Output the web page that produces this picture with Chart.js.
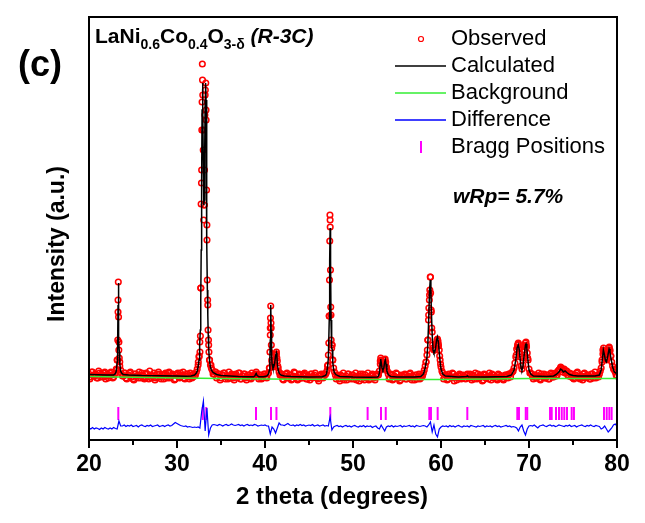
<!DOCTYPE html>
<html><head><meta charset="utf-8">
<script src="https://cdn.jsdelivr.net/npm/chart.js@4.4.0/dist/chart.umd.min.js"></script>
<style>html,body{margin:0;padding:0;background:#fff;}canvas{display:block;}</style>
</head><body>
<canvas id="c" width="645" height="523"></canvas>
<script>
// ---- axis ----
const xMin = 20, xMax = 80;
const xTickLabels = [20, 30, 40, 50, 60, 70, 80];
const xMinorTicks = [25, 35, 45, 55, 65, 75];

// ---- observed scan: two interleaved 2θ grids (start / step) ----
const scanStart = 20, scanStep = 0.2, scanStartB = 20.1;
const observed = [
 66,63,68,64,65,62,67,66,63,68,64,62,67,65,63,
 67,80,98,70,64,67,
 62,65,67,63,61,66,64,62,65,67,63,62,66,61,65,64,67,62,63,66,61,65,66,63,67,62,64,65,61,66,63,67,65,62,64,66,61,65,63,
 64,68,75,98,270,310,345,215,95,75,70,66,68,64,
 66,62,65,67,63,61,64,66,62,65,63,67,61,64,66,62,63,65,61,64,
 65,68,63,
 65,61,64,66,
 62,67,105,78,74,86,79,68,66,
 61,64,66,62,65,60,64,67,63,61,65,62,66,64,61,63,66,62,65,63,61,64,66,62,65,
 68,85,220,95,72,65,
 64,61,65,62,60,64,66,62,61,65,63,60,64,66,61,63,65,62,60,64,66,62,64,
 65,69,80,71,80,73,66,
 62,65,61,63,66,62,60,64,65,61,63,66,62,64,60,65,63,61,
 65,67,74,85,125,163,108,90,96,101,90,73,67,63,
 65,61,64,62,66,63,60,64,65,62,63,
 61,66,64,
 62,65,61,63,66,62,64,60,65,63,61,64,66,62,63,60,65,64,61,63,
 65,62,66,67,69,77,91,96,83,71,82,97,87,71,67,63,
 65,62,64,61,66,63,62,65,61,64,66,
 63,67,65,70,73,68,71,69,65,67,63,
 62,65,67,63,61,64,66,62,65,63,61,66,64,62,65,
 66,72,90,86,80,89,90,78,71,68,64
];
const observedB = [
 61,68,64,66,62,69,63,65,67,61,66,64,68,62,66,
 71,140,78,66,64,
 67,61,65,68,63,60,66,64,68,62,65,61,67,63,69,62,64,60,66,68,63,65,61,67,62,68,64,66,60,65,67,62,64,68,61,66,63,67,62,
 66,65,71,83,152,360,235,330,135,80,72,66,68,
 62,66,60,65,67,61,64,68,62,65,60,66,63,67,61,64,66,60,65,62,67,63,
 66,66,
 61,65,62,66,63,
 66,72,112,73,79,86,72,65,
 66,60,64,67,62,65,61,68,63,60,66,62,65,67,61,64,60,66,63,67,62,59,65,63,66,
 66,74,124,125,80,68,
 61,65,59,64,67,62,60,66,63,65,61,67,62,59,64,66,60,63,67,61,65,62,60,66,
 65,79,73,74,77,69,
 61,66,60,64,67,62,59,65,63,66,61,64,67,60,63,65,61,66,62,
 64,70,78,100,145,128,92,90,97,96,80,69,
 61,65,60,66,63,67,59,64,62,66,61,65,63,
 65,62,
 66,60,64,67,61,63,65,59,66,62,64,67,60,65,63,61,66,62,64,60,65,
 64,66,63,68,72,83,95,92,74,75,90,95,80,67,66,
 61,65,62,67,60,64,66,62,65,61,67,63,
 66,64,69,71,72,70,67,69,64,66,
 66,61,65,68,62,64,60,67,63,65,61,66,62,68,64,
 63,69,80,89,81,83,92,84,74,70,65
];
// extra observed points on the peak flanks [2θ, intensity]
const observedPeaks = [
 [23.15,70],[23.22,80],[23.27,100],[23.3,128],[23.33,158],[23.36,123],[23.39,90],[23.44,82],[23.5,74],
 [32.42,78],[32.52,84],[32.61,88],[32.66,104],[32.71,152],[32.74,236],[32.78,257],[32.82,310],[32.85,338],[32.88,376],
 [32.93,345],[32.98,290],[33.03,220],[33.08,235],[33.13,270],[33.17,325],[33.22,350],[33.27,357],[33.31,320],[33.36,250],
 [33.41,200],[33.44,160],[33.48,140],[33.53,110],[33.58,100],[33.63,88],[33.7,80],[33.86,75],
 [40.5,72],[40.56,88],[40.6,112],[40.62,122],[40.65,134],[40.68,117],[40.72,95],[40.77,80],
 [41.05,75],[41.15,80],[41.25,85],[41.3,88],[41.35,82],[41.45,74],
 [47.08,70],[47.15,75],[47.25,97],[47.3,124],[47.33,160],[47.36,199],[47.38,225],[47.41,213],[47.44,170],
 [47.47,133],[47.52,100],[47.58,92],[47.63,95],[47.7,80],
 [53.1,76],[53.15,82],[53.22,78],[53.3,72],[53.55,76],[53.65,81],[53.72,78],[53.8,71],
 [58.3,78],[58.45,90],[58.52,100],[58.58,120],[58.62,132],[58.68,140],[58.73,150],[58.78,163],[58.82,147],
 [58.88,130],[58.95,112],[59.05,95],[59.3,90],[59.45,95],[59.55,100],[59.66,99],[59.72,94],[59.85,84],[59.95,76],
 [68.55,85],[68.7,93],[68.78,97],[68.85,92],[68.95,86],[69.45,88],[69.55,94],[69.66,98],[69.72,93],[69.85,82],
 [78.3,78],[78.4,86],[78.47,92],[78.55,88],[78.95,86],[79.05,90],[79.12,93],[79.2,89],[79.3,84]
];

// ---- calculated profile [2θ, intensity] ----
const calculated = [
 [20,65.5],[21,65.2],[22,65],[22.8,65],[22.9,65.5],[23.0,66.5],[23.1,69],[23.2,78],[23.25,92],[23.3,135],[23.33,157],
 [23.36,140],[23.4,100],[23.45,88],[23.5,76],[23.6,69],[23.7,67],[23.9,65.5],[24.5,65],[26,64.5],[28,64.3],[30,64],
 [31,63.8],[31.6,64],[32.0,65],[32.2,67],[32.3,69],[32.4,73],[32.5,80],[32.55,86],[32.6,95],[32.65,110],[32.7,140],
 [32.75,190],[32.8,260],[32.85,330],[32.9,357],[32.95,330],[33.0,270],[33.05,235],[33.1,240],[33.15,290],[33.2,340],
 [33.25,357],[33.3,340],[33.35,280],[33.4,200],[33.45,150],[33.5,125],[33.55,105],[33.6,92],[33.65,84],[33.7,79],
 [33.8,73],[33.9,70],[34.1,67.5],[34.5,65.5],[35,64.5],[36,64],[37,63.5],[38,63.2],[38.7,63.2],[38.85,64],[38.95,66],
 [39.0,66.5],[39.1,64.5],[39.3,63.3],[39.8,63.2],[40.2,64],[40.4,66],[40.5,70],[40.55,80],[40.6,100],[40.65,135],
 [40.7,110],[40.75,85],[40.8,76],[40.9,72],[41.0,73],[41.1,77],[41.2,84],[41.3,87],[41.35,84],[41.4,76],[41.5,70],
 [41.6,67],[41.8,65],[42.2,64],[43,63.5],[45,63],[46.5,63.2],[46.9,64.5],[47.0,67],[47.1,72],[47.2,82],[47.3,120],
 [47.35,180],[47.4,212],[47.45,180],[47.5,120],[47.55,95],[47.6,92],[47.65,90],[47.7,78],[47.8,70],[47.9,67],
 [48.1,65],[48.5,63.5],[50,63],[52,62.8],[52.8,63],[52.9,64],[53.0,67],[53.1,77],[53.15,81],[53.2,78],[53.3,72],
 [53.4,70],[53.5,72],[53.6,78],[53.67,80],[53.75,76],[53.85,69],[54.0,65.5],[54.3,63.5],[55,63],[57,63],[57.7,63.5],
 [58.0,66],[58.2,72],[58.4,82],[58.5,95],[58.6,120],[58.7,150],[58.78,160],[58.85,150],[58.9,130],[59.0,105],
 [59.1,90],[59.2,87],[59.3,88],[59.4,93],[59.5,100],[59.6,103],[59.7,98],[59.8,88],[59.9,78],[60.0,71],[60.2,66],
 [60.5,64],[62,63],[62.9,63.5],[63.0,64],[63.1,63.3],[65,63],[67.5,63.5],[68.0,65],[68.3,70],[68.5,80],[68.65,92],
 [68.78,95],[68.9,90],[69.0,80],[69.1,72],[69.2,70],[69.3,73],[69.45,85],[69.6,95],[69.66,96],[69.75,92],[69.9,78],
 [70.0,70],[70.2,66],[70.5,64],[72,63.5],[72.8,64],[73.1,65.5],[73.4,68],[73.6,71],[73.75,70],[73.9,68],[74.1,69],
 [74.3,67.5],[74.6,65.5],[75.0,64.5],[75.5,64],[77.5,64],[78.0,65],[78.2,70],[78.35,82],[78.45,90],[78.55,86],
 [78.7,79],[78.8,78],[78.95,84],[79.1,91],[79.2,88],[79.35,80],[79.5,73],[79.7,68],[80,66]
];

// ---- background [2θ, intensity] ----
const background = [[20,63.5],[30,62],[40,61],[50,60.5],[60,60.5],[70,61.5],[80,61.5]];

// ---- difference curve (offset), on the first scan grid ----
const difference = [
 12,11,12.5,11,12,11.5,10.5,12,11,12.5,11.5,11,12,11,12.5,11.5,
 11,19,14,
 14,15,13.5,14.5,14,15,13.5,14,14.5,13,14.5,15,14,13.5,14.5,14,15,13.5,14,14.5,15,13.5,14,14.5,13.5,14.5,15,14,14.5,
 16,17.5,16.5,15.5,
 14.5,14,13.5,14,13,13.5,13,12.5,13,12.5,13,
 12,28,39,9,32,5,12,15,
 15.5,15,14.5,15.5,15,14,15,15.5,14.5,15,16,15,14.5,15,15.5,14.5,15,14,15,15.5,14.5,15,14.5,15.5,15,14,14.5,15,14.5,15,14,
 14,6,13,11,7,12,17,15,
 15,14.5,15.5,16.5,15,14.5,15,14,15,14.5,15.5,14.5,15,14,14.5,15,14.5,15.5,14,14.5,15,14,14.5,15,14,14.5,
 14,23,10,13,
 14,14.5,13.5,14,13,14,14.5,13.5,14,13,14,14.5,13.5,13,14,13.5,14.5,13,14,13.5,14,12.5,13.5,14,12,
 11,15,12,9,13,
 14,13.5,14.5,13,14,13.5,14,14.5,13,14,13.5,14,14.5,13.5,14,13,14.5,14,13.5,14,14.5,14,
 13,15,18,8,15,6,3,11,13,
 14,13.5,14,13,14.5,13.5,14,13,14,14.5,13.5,13,14,13.5,14,13,14.5,14,13.5,13,14,13.5,14,14.5,13,14,13.5,14,13,14,14.5,13.5,14,13,13.5,14,14.5,13.5,14,13,13.5,13,
 12,9,13,15,9,5,11,14,
 14.5,14,15,13.5,12,14,14.5,15,14,13.5,14.5,15,14,14.5,13.5,14,15,14.5,14,13.5,14.5,14,15,13.5,14,14.5,13,14,14.5,15,14,13.5,14.5,14,15,14,13.5,14.5,14,13.5,
 11,12,14,11,8,10,12,15,16,14
];

// ---- Bragg reflection positions (2θ) and their marker level ----
const braggPositions = [23.33,32.92,33.32,38.98,40.68,41.3,47.42,51.66,53.18,53.72,58.67,58.86,59.62,62.99,
 68.67,68.86,69.63,69.8,72.39,72.58,73.07,73.41,73.72,74.01,74.32,74.85,75.11,78.52,78.83,79.13,79.39];
const braggLevel = 26.5;

// ---- texts ----
const panelLabel = '(c)';
const xTitle = '2 theta (degrees)';
const yTitle = 'Intensity (a.u.)';
const fitLabel = 'wRp= 5.7%';

// ---- build datasets ----
const grid = (arr, start) => arr.map((v, i) => ({x: +(start + i * scanStep).toFixed(2), y: v}));
const pts = (arr) => arr.map(p => ({x: p[0], y: p[1]}));
const obsData = grid(observed, scanStart).concat(grid(observedB, scanStartB), pts(observedPeaks));

const FONT = "'Liberation Sans', Arial, sans-serif";

const decor = {
  id: 'decor',
  afterDraw(chart) {
    const {ctx, chartArea: a, scales: {x}} = chart;
    ctx.save();
    ctx.strokeStyle = '#000';
    ctx.lineWidth = 2;
    ctx.strokeRect(a.left, a.top, a.right - a.left, a.bottom - a.top);
    xTickLabels.concat(xMinorTicks).forEach(v => {
      const px = Math.round(x.getPixelForValue(v));
      const L = xTickLabels.includes(v) ? 8 : 5;
      ctx.beginPath(); ctx.moveTo(px, a.bottom); ctx.lineTo(px, a.bottom + L); ctx.stroke();
    });
    ctx.fillStyle = '#000';
    // axis titles
    ctx.textAlign = 'center'; ctx.textBaseline = 'middle';
    ctx.font = 'bold 24px ' + FONT;
    ctx.fillText(xTitle, 332, 497);
    ctx.save();
    ctx.translate(58, 244); ctx.rotate(-Math.PI / 2);
    ctx.font = 'bold 23px ' + FONT;
    ctx.fillText(yTitle, 0, 0);
    ctx.restore();
    // panel label
    ctx.font = 'bold 36px ' + FONT;
    ctx.fillText(panelLabel, 40, 66);
    // sample title with subscripts
    ctx.textAlign = 'left'; ctx.textBaseline = 'alphabetic';
    const parts = [
      ['LaNi', 'bold 21px', 0], ['0.6', 'bold 14px', 6], ['Co', 'bold 21px', 0], ['0.4', 'bold 14px', 6],
      ['O', 'bold 21px', 0], ['3-δ', 'bold 14px', 6], [' (R-3C)', 'italic bold 21px', 0]
    ];
    let tx = 95;
    parts.forEach(([t, f, dy]) => { ctx.font = f + ' ' + FONT; ctx.fillText(t, tx, 43 + dy); tx += ctx.measureText(t).width; });
    // legend
    const order = ['Observed', 'Calculated', 'Background', 'Difference', 'Bragg Positions'];
    order.forEach((lab, k) => {
      const ds = chart.data.datasets.find(d => d.label === lab);
      const y = 39 + k * 27;
      ctx.strokeStyle = ds.borderColor;
      if (lab === 'Observed') {
        ctx.lineWidth = 1.2; ctx.beginPath(); ctx.arc(421, y, 2.5, 0, Math.PI * 2); ctx.stroke();
      } else if (lab === 'Bragg Positions') {
        ctx.lineWidth = 2; ctx.beginPath(); ctx.moveTo(421, y - 6); ctx.lineTo(421, y + 6); ctx.stroke();
      } else {
        ctx.lineWidth = 1.5; ctx.beginPath(); ctx.moveTo(395, y); ctx.lineTo(446, y); ctx.stroke();
      }
      ctx.fillStyle = '#000'; ctx.font = '22px ' + FONT; ctx.textBaseline = 'middle';
      ctx.fillText(lab, 451, y);
    });
    ctx.font = 'italic bold 21px ' + FONT; ctx.textBaseline = 'middle';
    ctx.fillText(fitLabel, 453, 197);
    ctx.restore();
  }
};

new Chart(document.getElementById('c'), {
  type: 'scatter',
  data: {
    datasets: [
      {label: 'Background', data: pts(background), showLine: true, borderColor: '#33ee33', borderWidth: 1.5, pointRadius: 0, order: 0},
      {label: 'Calculated', data: pts(calculated), showLine: true, borderColor: '#000000', borderWidth: 1.5, pointRadius: 0, order: 1},
      {label: 'Observed', data: obsData, showLine: false, pointStyle: 'circle', pointRadius: 2.8, borderWidth: 1.5,
       borderColor: '#ff0000', backgroundColor: 'rgba(255,255,255,0)', order: 2},
      {label: 'Difference', data: grid(difference, scanStart), showLine: true, borderColor: '#0000ff', borderWidth: 1.2, pointRadius: 0, order: 3},
      {label: 'Bragg Positions', data: braggPositions.map(p => ({x: p, y: braggLevel})), showLine: false,
       pointStyle: 'line', rotation: 90, pointRadius: 6.5, borderWidth: 2, borderColor: '#ff00ff', order: 4}
    ]
  },
  options: {
    responsive: false, animation: false, devicePixelRatio: 1,
    layout: {padding: {left: 89, right: 28, top: 17, bottom: 0}},
    plugins: {legend: {display: false}, tooltip: {enabled: false}},
    elements: {line: {tension: 0}},
    scales: {
      x: {
        type: 'linear', min: xMin, max: xMax, position: 'bottom',
        afterFit: (s) => { s.height = 83; },
        grid: {display: false, drawTicks: false},
        border: {display: false},
        afterBuildTicks: (s) => { s.ticks = xTickLabels.map(v => ({value: v})); },
        ticks: {font: {family: FONT, size: 23, weight: 'bold'}, color: '#000', padding: 11, maxRotation: 0}
      },
      y: {display: false, min: 0, max: 423}
    }
  },
  plugins: [decor]
});
</script>
</body></html>
